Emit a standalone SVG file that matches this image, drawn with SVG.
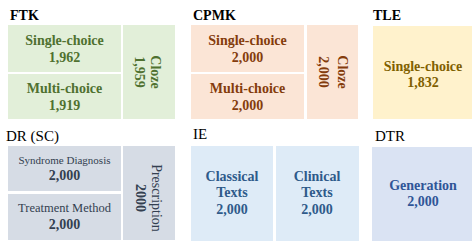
<svg xmlns="http://www.w3.org/2000/svg" width="476" height="243" viewBox="0 0 476 243">
<style>
text{font-family:"Liberation Serif","Times New Roman",serif;text-anchor:middle;font-size:14px;font-weight:bold}
text.t{font-size:14px;text-anchor:start}
text.tn{font-size:15px;font-weight:normal;text-anchor:start}
</style>
<g id="FTK">
<text class="t" x="10" y="20" style="fill:#000000">FTK</text>
<g fill="#e2efd9">
<rect x="8" y="25" width="113" height="47"/>
<rect x="8" y="74" width="113" height="45"/>
<rect x="123" y="25" width="52" height="94"/>
</g>
<g style="fill:#4f7130">
<text x="64.5" y="45">Single-choice</text>
<text x="64.5" y="62">1,962</text>
<text x="64.5" y="93">Multi-choice</text>
<text x="64.5" y="110">1,919</text>
<text transform="translate(151,72) rotate(90)">Cloze</text>
<text transform="translate(135,72) rotate(90)">1,959</text>
</g>
</g>
<g id="CPMK">
<text class="t" x="193" y="20" style="fill:#000000">CPMK</text>
<g fill="#fbe5d6">
<rect x="191" y="25" width="113" height="47"/>
<rect x="191" y="74" width="113" height="45"/>
<rect x="307" y="25" width="51" height="94"/>
</g>
<g style="fill:#843c0c">
<text x="247.5" y="45">Single-choice</text>
<text x="247.5" y="62">2,000</text>
<text x="247.5" y="93">Multi-choice</text>
<text x="247.5" y="110">2,000</text>
<text transform="translate(338,72) rotate(90)">Cloze</text>
<text transform="translate(319,72) rotate(90)">2,000</text>
</g>
</g>
<g id="TLE">
<text class="t" x="373" y="20" style="fill:#000000">TLE</text>
<rect x="373" y="26" width="99" height="93" fill="#fff2cc"/>
<g style="fill:#7f6000">
<text x="423" y="71">Single-choice</text>
<text x="423" y="87">1,832</text>
</g>
</g>
<g id="DR">
<text class="tn" x="6" y="141" style="fill:#000000">DR (SC)</text>
<g fill="#d6dce5">
<rect x="8" y="146" width="113" height="45"/>
<rect x="8" y="194" width="113" height="46"/>
<rect x="123" y="146" width="52" height="94"/>
</g>
<g style="fill:#333f50">
<text x="64.5" y="164" style="font-size:11px;font-weight:normal">Syndrome Diagnosis</text>
<text x="64.5" y="180">2,000</text>
<text x="64.5" y="212" style="font-size:12.5px;font-weight:normal">Treatment Method</text>
<text x="64.5" y="229">2,000</text>
<text transform="translate(152,198) rotate(90)" style="font-weight:normal">Prescription</text>
<text transform="translate(136,198) rotate(90)">2000</text>
</g>
</g>
<g id="IE">
<text class="tn" x="193" y="139" style="fill:#000000">IE</text>
<g fill="#deebf7">
<rect x="191" y="146" width="82" height="95"/>
<rect x="276" y="146" width="83" height="95"/>
</g>
<g style="fill:#2e5a8a">
<text x="232" y="181">Classical</text>
<text x="232" y="197">Texts</text>
<text x="232" y="214">2,000</text>
<text x="317" y="181">Clinical</text>
<text x="317" y="197">Texts</text>
<text x="317" y="214">2,000</text>
</g>
</g>
<g id="DTR">
<text class="tn" x="375" y="141" style="fill:#000000">DTR</text>
<rect x="372" y="147" width="100" height="94" fill="#dae3f3"/>
<g style="fill:#2f5597">
<text x="423" y="190">Generation</text>
<text x="423" y="206">2,000</text>
</g>
</g>
<g id="connectors"></g>
</svg>
